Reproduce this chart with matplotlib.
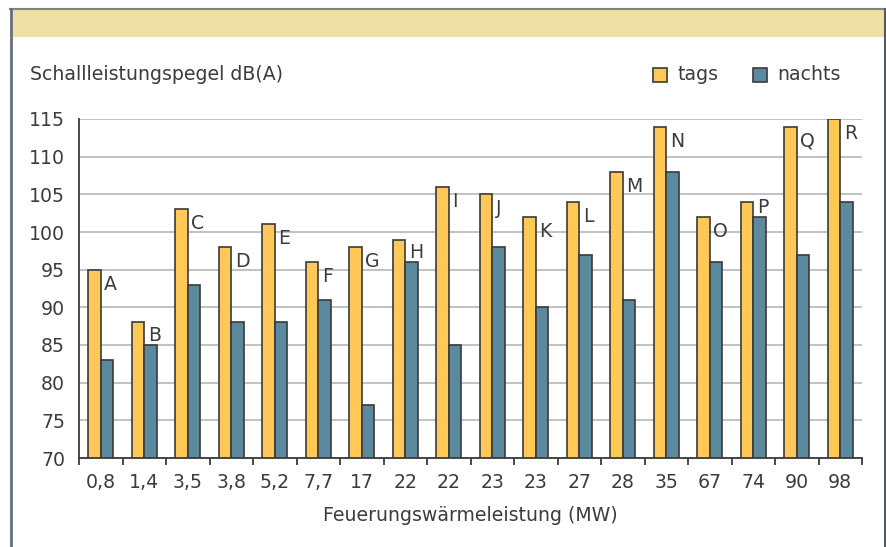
import matplotlib
matplotlib.use("Agg")
import matplotlib.pyplot as plt
from matplotlib.patches import Rectangle
from matplotlib.lines import Line2D
import numpy as np

# Data
categories = ["0,8", "1,4", "3,5", "3,8", "5,2", "7,7", "17", "22", "22",
              "23", "23", "27", "28", "35", "67", "74", "90", "98"]
plant_ids = list("ABCDEFGHIJKLMNOPQR")
tags = [95, 88, 103, 98, 101, 96, 98, 99, 106, 105, 102, 104, 108, 114, 102, 104, 114, 115]
nachts = [83, 85, 93, 88, 88, 91, 77, 96, 85, 98, 90, 97, 91, 108, 96, 102, 97, 104]
y_ticks = [70, 75, 80, 85, 90, 95, 100, 105, 110, 115]

plt.rcParams['font.family'] = ['DejaVu Sans']
TEXT = "#3c3c3c"
FS = 13.6
C_TAG = "#FFC857"
C_NIGHT = "#5B8A9E"
EDGE = "#3a3a3a"

fig = plt.figure(figsize=(8.86, 5.47), dpi=100)
W, H = 886, 547

# Frame: top band and side borders
fig.patches.append(Rectangle((10 / W, 1 - 37 / H), (885 - 10) / W, 28 / H,
                             transform=fig.transFigure, facecolor="#EEDFA5",
                             edgecolor="none", zorder=0))
fig.lines.append(Line2D([10 / W, 885 / W], [1 - 9 / H, 1 - 9 / H],
                        transform=fig.transFigure, color="#7d8585", lw=1.5))
fig.lines.append(Line2D([11 / W, 11 / W], [0, 1 - 9 / H],
                        transform=fig.transFigure, color="#66707a", lw=2))
fig.lines.append(Line2D([884.5 / W, 884.5 / W], [0, 1 - 9 / H],
                        transform=fig.transFigure, color="#555a5e", lw=1.5))

ax = fig.add_axes([79 / W, (H - 458) / H, (862 - 79) / W, (458 - 119) / H])
x = np.arange(len(categories))
bw = 0.29
ax.bar(x - bw / 2, tags, bw, bottom=0, color=C_TAG, edgecolor=EDGE, linewidth=1.2, zorder=3)
ax.bar(x + bw / 2, nachts, bw, bottom=0, color=C_NIGHT, edgecolor=EDGE, linewidth=1.2, zorder=3)

ax.set_ylim(70, 115)
ax.set_xlim(-0.5, len(categories) - 0.5)
ax.set_yticks(y_ticks)
ax.yaxis.grid(True, color="#bdbdbd", lw=1.3, zorder=0)
ax.set_axisbelow(True)
for s in ["top", "right"]:
    ax.spines[s].set_visible(False)
for s in ["left", "bottom"]:
    ax.spines[s].set_color(EDGE)
    ax.spines[s].set_linewidth(1.3)
    ax.spines[s].set_zorder(4)

ax.tick_params(axis="y", length=0, pad=10, labelsize=FS, labelcolor=TEXT)
ax.set_xticks(x)
ax.set_xticklabels(categories)
ax.tick_params(axis="x", length=0, pad=11, labelsize=FS, labelcolor=TEXT)
ax.set_xticks(np.arange(len(categories) + 1) - 0.5, minor=True)
ax.tick_params(axis="x", which="minor", length=5, width=1.3, color=EDGE, direction="out")

# Plant letters beside the daytime bars
unit = 45 / (458 - 119)
for xi, t, n, lab in zip(x, tags, nachts, plant_ids):
    y_top = t - 5 * unit
    y_bottom = y_top - 15 * unit
    if y_bottom < n + 0.5:
        y_top = n + 0.5 + 15 * unit
    ax.text(xi + 0.08, y_top, lab, ha="left", va="top", fontsize=FS,
            color=TEXT, zorder=5)

ax.set_xlabel("Feuerungswärmeleistung (MW)", fontsize=FS, color=TEXT, labelpad=10)

fig.text(30 / W, 1 - 75 / H, "Schallleistungspegel dB(A)", fontsize=FS,
         color=TEXT, ha="left", va="center")

# Legend
for x0, label, col in [(653, "tags", C_TAG), (753, "nachts", C_NIGHT)]:
    fig.patches.append(Rectangle((x0 / W, 1 - 82 / H), 14 / W, 14 / H,
                                 transform=fig.transFigure, facecolor=col,
                                 edgecolor=EDGE, lw=1.2))
    fig.text((x0 + 24) / W, 1 - 75 / H, label, fontsize=FS, color=TEXT,
             ha="left", va="center")

fig.savefig("out.png", dpi=100)
